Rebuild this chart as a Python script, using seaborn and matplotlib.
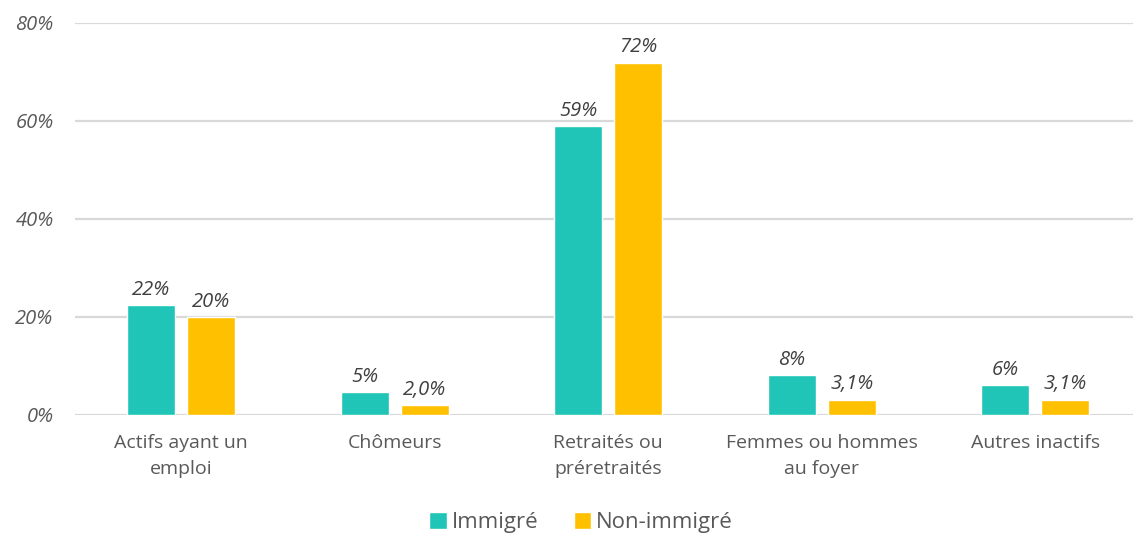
import matplotlib
matplotlib.use("Agg")
import matplotlib.pyplot as plt
import seaborn as sns
import pandas as pd
from matplotlib.ticker import FuncFormatter

# Data
categories = ["Actifs ayant un\nemploi", "Chômeurs", "Retraités ou\npréretraités",
              "Femmes ou hommes\nau foyer", "Autres inactifs"]
groups = ["Immigré", "Non-immigré"]
immigre = [22.4, 4.6, 58.9, 8.1, 6.1]
non_immigre = [19.9, 2.0, 71.9, 3.1, 3.1]
labels_immigre = ["22%", "5%", "59%", "8%", "6%"]
labels_non_immigre = ["20%", "2,0%", "72%", "3,1%", "3,1%"]
colors = ["#20C5B7", "#FFC000"]

df = pd.DataFrame({
    "categorie": categories * 2,
    "groupe": [groups[0]] * 5 + [groups[1]] * 5,
    "valeur": immigre + non_immigre,
    "label": labels_immigre + labels_non_immigre,
})

sns.set_theme(style="white")
plt.rcParams["font.family"] = ["Open Sans", "DejaVu Sans"]

fig = plt.figure(figsize=(11.33, 5.34), dpi=100)
ax = fig.add_axes([74.5 / 1133, 119 / 534, (1133 - 74.5) / 1133, 392 / 534])

sns.barplot(data=df, x="categorie", y="valeur", hue="groupe", order=categories,
            hue_order=groups, palette=colors, width=0.562, gap=0.2,
            saturation=1, ax=ax, zorder=3)

# value labels
for cont, labs in zip(ax.containers, [labels_immigre, labels_non_immigre]):
    ax.bar_label(cont, labels=labs, padding=4, fontsize=14.5, fontstyle="italic",
                 color="#404040")

ax.set_ylim(0, 80)
ax.set_xlim(-0.5, -0.5 + (1133 - 74.5) / 213.5)
ax.set_yticks([0, 20, 40, 60, 80])
ax.yaxis.set_major_formatter(FuncFormatter(lambda v, p: f"{v:.0f}%"))
ax.grid(axis="y", color="#d9d9d9", linewidth=1.6, zorder=0)
for s in ax.spines.values():
    s.set_visible(False)
ax.tick_params(axis="y", length=0, pad=15, labelsize=14.5, labelcolor="#595959")
ax.tick_params(axis="x", length=0, pad=14, labelsize=14, labelcolor="#595959")
for t in ax.get_yticklabels():
    t.set_fontstyle("italic")
for t in ax.get_xticklabels():
    t.set_linespacing(1.55)
ax.set_xlabel("")
ax.set_ylabel("")

ax.legend(loc="lower center", bbox_to_anchor=((581 - 74.5) / (1133 - 74.5), -0.335),
          ncol=2, frameon=False, fontsize=16, handlelength=0.8, handleheight=0.8,
          handletextpad=0.2, columnspacing=1.6, labelcolor="#595959",
          borderpad=0.1)

plt.savefig("out.png", dpi=100)
